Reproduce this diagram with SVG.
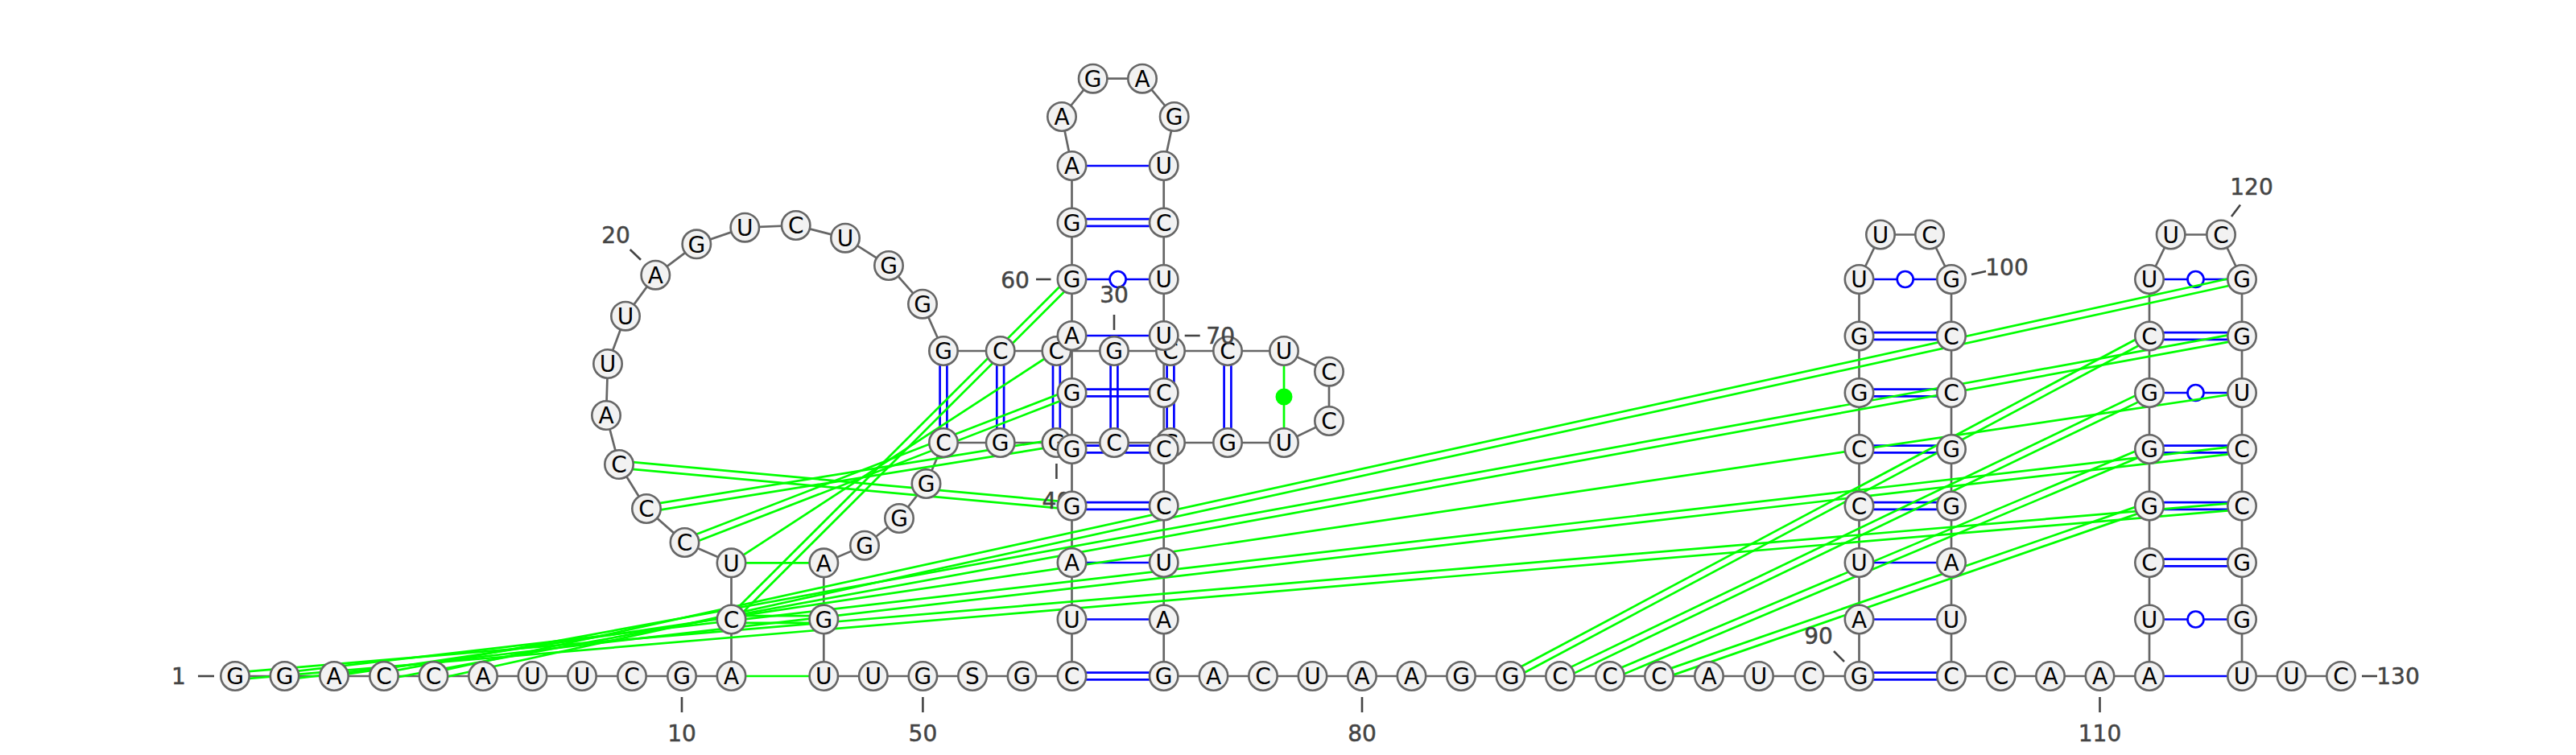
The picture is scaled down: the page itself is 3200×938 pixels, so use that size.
<svg xmlns="http://www.w3.org/2000/svg" width="3200" height="938" viewBox="0 0 3200 938">
<style>
text{font-family:"DejaVu Sans","Liberation Sans",sans-serif;font-size:28px;text-anchor:middle}
.n circle.c{fill:#f2f2f2;stroke:#666;stroke-width:2.6}
.n text{fill:#000;transform:translateY(.5px)}
.n text.l{fill:#444;stroke:#444;stroke-width:.5}
.n line{stroke:#444;stroke-width:2.6}
#connectors line,#connectors polyline{fill:none;stroke-width:2.7}
#backbone{stroke:#666}
.b{stroke:#00f}
.g{stroke:#0f0}
.w{fill:#fff;stroke:#00f;stroke-width:2.7}
</style>
<rect width="3200" height="938" fill="#fff"/>
<g id="connectors">
<polyline id="backbone" points="292,840 353.5,840 415,840 477,840 538.5,840 600,840 661.5,840 723,840 785,840 847,840 908.5,840 908.5,769.5 908.5,699.3 850.5,674 803,632 769,577 753,516 755,452 777,392.7 814.3,341.7 865.3,303.3 925.3,282.7 988.7,280 1050,295.7 1104,330 1146,377.7 1172,436 1242.7,436 1312.4,436 1384,436 1454,436 1525,436 1595,436 1651,461.7 1651,523 1595,550 1525,550 1454,550 1384,550 1312.4,550 1242.7,550 1172,550 1150.5,601 1117,644 1074,677.7 1023.3,699.3 1023.3,769.5 1023.3,840 1084.8,840 1146.4,840 1208,840 1269.5,840 1331.5,840 1331.5,769.5 1331.5,699 1331.5,628.5 1331.5,558 1331.5,488 1331.5,417 1331.5,347 1331.5,276.5 1331.5,206 1319,145 1357.7,97.7 1419,97.7 1458.7,145 1445.7,206 1445.7,276.5 1445.7,347 1445.7,417 1445.7,488 1445.7,558 1445.7,628.5 1445.7,699 1445.7,769.5 1445.7,840 1507.5,840 1569,840 1630.5,840 1692,840 1753.5,840 1815,840 1876.5,840 1938,840 2000,840 2061,840 2123,840 2185,840 2247.5,840 2309.5,840 2309.5,769.5 2309.5,699 2309.5,628.5 2309.5,558 2309.5,488 2309.5,417.5 2309.5,347 2336,291.5 2397,291.5 2424,347 2424,417.5 2424,488 2424,558 2424,628.5 2424,699 2424,769.5 2424,840 2485.5,840 2547,840 2608.5,840 2670,840 2670,769.5 2670,699 2670,628.5 2670,558 2670,488 2670,417.5 2670,347 2696.7,291.5 2759,291.5 2785,347 2785,417.5 2785,488 2785,558 2785,628.5 2785,699 2785,769.5 2785,840 2846.5,840 2908,840"/>
<g id="blue-pairs">
<line class="b" x1="1167.6" y1="436" x2="1167.6" y2="550"/><line class="b" x1="1176.4" y1="436" x2="1176.4" y2="550"/>
<line class="b" x1="1238.3" y1="436" x2="1238.3" y2="550"/><line class="b" x1="1247.1" y1="436" x2="1247.1" y2="550"/>
<line class="b" x1="1308" y1="436" x2="1308" y2="550"/><line class="b" x1="1316.8" y1="436" x2="1316.8" y2="550"/>
<line class="b" x1="1379.6" y1="436" x2="1379.6" y2="550"/><line class="b" x1="1388.4" y1="436" x2="1388.4" y2="550"/>
<line class="b" x1="1449.6" y1="436" x2="1449.6" y2="550"/><line class="b" x1="1458.4" y1="436" x2="1458.4" y2="550"/>
<line class="b" x1="1520.6" y1="436" x2="1520.6" y2="550"/><line class="b" x1="1529.4" y1="436" x2="1529.4" y2="550"/>
<line class="b" x1="1331.5" y1="835.6" x2="1445.7" y2="835.6"/><line class="b" x1="1331.5" y1="844.4" x2="1445.7" y2="844.4"/>
<line class="b" x1="1331.5" y1="769.5" x2="1445.7" y2="769.5"/>
<line class="b" x1="1331.5" y1="699" x2="1445.7" y2="699"/>
<line class="b" x1="1331.5" y1="624.1" x2="1445.7" y2="624.1"/><line class="b" x1="1331.5" y1="632.9" x2="1445.7" y2="632.9"/>
<line class="b" x1="1331.5" y1="553.6" x2="1445.7" y2="553.6"/><line class="b" x1="1331.5" y1="562.4" x2="1445.7" y2="562.4"/>
<line class="b" x1="1331.5" y1="483.6" x2="1445.7" y2="483.6"/><line class="b" x1="1331.5" y1="492.4" x2="1445.7" y2="492.4"/>
<line class="b" x1="1331.5" y1="417" x2="1445.7" y2="417"/>
<line class="b" x1="1331.5" y1="347" x2="1445.7" y2="347"/>
<line class="b" x1="1331.5" y1="272.1" x2="1445.7" y2="272.1"/><line class="b" x1="1331.5" y1="280.9" x2="1445.7" y2="280.9"/>
<line class="b" x1="1331.5" y1="206" x2="1445.7" y2="206"/>
<line class="b" x1="2309.5" y1="835.6" x2="2424" y2="835.6"/><line class="b" x1="2309.5" y1="844.4" x2="2424" y2="844.4"/>
<line class="b" x1="2309.5" y1="769.5" x2="2424" y2="769.5"/>
<line class="b" x1="2309.5" y1="699" x2="2424" y2="699"/>
<line class="b" x1="2309.5" y1="624.1" x2="2424" y2="624.1"/><line class="b" x1="2309.5" y1="632.9" x2="2424" y2="632.9"/>
<line class="b" x1="2309.5" y1="553.6" x2="2424" y2="553.6"/><line class="b" x1="2309.5" y1="562.4" x2="2424" y2="562.4"/>
<line class="b" x1="2309.5" y1="483.6" x2="2424" y2="483.6"/><line class="b" x1="2309.5" y1="492.4" x2="2424" y2="492.4"/>
<line class="b" x1="2309.5" y1="413.1" x2="2424" y2="413.1"/><line class="b" x1="2309.5" y1="421.9" x2="2424" y2="421.9"/>
<line class="b" x1="2309.5" y1="347" x2="2424" y2="347"/>
<line class="b" x1="2670" y1="840" x2="2785" y2="840"/>
<line class="b" x1="2670" y1="769.5" x2="2785" y2="769.5"/>
<line class="b" x1="2670" y1="694.6" x2="2785" y2="694.6"/><line class="b" x1="2670" y1="703.4" x2="2785" y2="703.4"/>
<line class="b" x1="2670" y1="624.1" x2="2785" y2="624.1"/><line class="b" x1="2670" y1="632.9" x2="2785" y2="632.9"/>
<line class="b" x1="2670" y1="553.6" x2="2785" y2="553.6"/><line class="b" x1="2670" y1="562.4" x2="2785" y2="562.4"/>
<line class="b" x1="2670" y1="488" x2="2785" y2="488"/>
<line class="b" x1="2670" y1="413.1" x2="2785" y2="413.1"/><line class="b" x1="2670" y1="421.9" x2="2785" y2="421.9"/>
<line class="b" x1="2670" y1="347" x2="2785" y2="347"/>
<circle class="w" cx="1388.6" cy="347" r="10"/>
<circle class="w" cx="2366.7" cy="347" r="10"/>
<circle class="w" cx="2727.5" cy="769.5" r="10"/>
<circle class="w" cx="2727.5" cy="488" r="10"/>
<circle class="w" cx="2727.5" cy="347" r="10"/>
</g>
<g id="green-pairs">
<line class="g" x1="1595" y1="436" x2="1595" y2="550"/>
<circle cx="1595" cy="493" r="10.5" fill="#0f0"/>
<line class="g" x1="908.5" y1="840" x2="1023.3" y2="840"/>
<line class="g" x1="908.5" y1="699.3" x2="1023.3" y2="699.3"/>
<line class="g" x1="908.5" y1="765.2" x2="1023.3" y2="765.2"/><line class="g" x1="908.5" y1="773.8" x2="1023.3" y2="773.8"/>
<line class="g" x1="908.3" y1="699.3" x2="1312.4" y2="436"/>
<line class="g" x1="905" y1="766.5" x2="1328.5" y2="344"/><line class="g" x1="911" y1="772.5" x2="1334.5" y2="350"/>
<line class="g" x1="849" y1="670" x2="1330" y2="484"/><line class="g" x1="852" y1="678" x2="1333" y2="492"/>
<line class="g" x1="802.3" y1="627.8" x2="1311.7" y2="545.8"/><line class="g" x1="803.7" y1="636.2" x2="1313.1" y2="554.2"/>
<line class="g" x1="769.4" y1="572.7" x2="1331.9" y2="624.2"/><line class="g" x1="768.6" y1="581.3" x2="1331.1" y2="632.8"/>
<line class="g" x1="291.6" y1="835.7" x2="2784.6" y2="624.2"/><line class="g" x1="292.4" y1="844.3" x2="2785.4" y2="632.8"/>
<line class="g" x1="353" y1="835.7" x2="2784.5" y2="553.7"/><line class="g" x1="354" y1="844.3" x2="2785.5" y2="562.3"/>
<line class="g" x1="415" y1="840" x2="2785" y2="488"/>
<line class="g" x1="476.2" y1="835.8" x2="2784.2" y2="413.3"/><line class="g" x1="477.8" y1="844.2" x2="2785.8" y2="421.7"/>
<line class="g" x1="537.6" y1="835.8" x2="2784.1" y2="342.8"/><line class="g" x1="539.4" y1="844.2" x2="2785.9" y2="351.2"/>
<line class="g" x1="1874.5" y1="836.2" x2="2668" y2="413.7"/><line class="g" x1="1878.5" y1="843.8" x2="2672" y2="421.3"/>
<line class="g" x1="1936.1" y1="836.1" x2="2668.1" y2="484.1"/><line class="g" x1="1939.9" y1="843.9" x2="2671.9" y2="491.9"/>
<line class="g" x1="1998.3" y1="836" x2="2668.3" y2="554"/><line class="g" x1="2001.7" y1="844" x2="2671.7" y2="562"/>
<line class="g" x1="2059.6" y1="835.9" x2="2668.6" y2="624.4"/><line class="g" x1="2062.4" y1="844.1" x2="2671.4" y2="632.6"/>
</g>
</g>
<g id="nodes">
<g id="n1" class="n" transform="translate(292 840)"><circle class="c" r="17.7"/><text y="9.7">G</text><line x1="-46" y1="0" x2="-26" y2="0"/><text class="l" x="-70" y="9.7">1</text></g>
<g id="n2" class="n" transform="translate(353.5 840)"><circle class="c" r="17.7"/><text y="9.7">G</text></g>
<g id="n3" class="n" transform="translate(415 840)"><circle class="c" r="17.7"/><text y="9.7">A</text></g>
<g id="n4" class="n" transform="translate(477 840)"><circle class="c" r="17.7"/><text y="9.7">C</text></g>
<g id="n5" class="n" transform="translate(538.5 840)"><circle class="c" r="17.7"/><text y="9.7">C</text></g>
<g id="n6" class="n" transform="translate(600 840)"><circle class="c" r="17.7"/><text y="9.7">A</text></g>
<g id="n7" class="n" transform="translate(661.5 840)"><circle class="c" r="17.7"/><text y="9.7">U</text></g>
<g id="n8" class="n" transform="translate(723 840)"><circle class="c" r="17.7"/><text y="9.7">U</text></g>
<g id="n9" class="n" transform="translate(785 840)"><circle class="c" r="17.7"/><text y="9.7">C</text></g>
<g id="n10" class="n" transform="translate(847 840)"><circle class="c" r="17.7"/><text y="9.7">G</text><line x1="0" y1="26" x2="0" y2="45"/><text class="l" y="80.4">10</text></g>
<g id="n11" class="n" transform="translate(908.5 840)"><circle class="c" r="17.7"/><text y="9.7">A</text></g>
<g id="n12" class="n" transform="translate(908.5 769.5)"><circle class="c" r="17.7"/><text y="9.7">C</text></g>
<g id="n13" class="n" transform="translate(908.5 699.3)"><circle class="c" r="17.7"/><text y="9.7">U</text></g>
<g id="n14" class="n" transform="translate(850.5 674)"><circle class="c" r="17.7"/><text y="9.7">C</text></g>
<g id="n15" class="n" transform="translate(803 632)"><circle class="c" r="17.7"/><text y="9.7">C</text></g>
<g id="n16" class="n" transform="translate(769 577)"><circle class="c" r="17.7"/><text y="9.7">C</text></g>
<g id="n17" class="n" transform="translate(753 516)"><circle class="c" r="17.7"/><text y="9.7">A</text></g>
<g id="n18" class="n" transform="translate(755 452)"><circle class="c" r="17.7"/><text y="9.7">U</text></g>
<g id="n19" class="n" transform="translate(777 392.7)"><circle class="c" r="17.7"/><text y="9.7">U</text></g>
<g id="n20" class="n" transform="translate(814.3 341.7)"><circle class="c" r="17.7"/><text y="9.7">A</text><line x1="-31.6" y1="-31.7" x2="-18.3" y2="-19"/><text class="l" x="-49.3" y="-40.3">20</text></g>
<g id="n21" class="n" transform="translate(865.3 303.3)"><circle class="c" r="17.7"/><text y="9.7">G</text></g>
<g id="n22" class="n" transform="translate(925.3 282.7)"><circle class="c" r="17.7"/><text y="9.7">U</text></g>
<g id="n23" class="n" transform="translate(988.7 280)"><circle class="c" r="17.7"/><text y="9.7">C</text></g>
<g id="n24" class="n" transform="translate(1050 295.7)"><circle class="c" r="17.7"/><text y="9.7">U</text></g>
<g id="n25" class="n" transform="translate(1104 330)"><circle class="c" r="17.7"/><text y="9.7">G</text></g>
<g id="n26" class="n" transform="translate(1146 377.7)"><circle class="c" r="17.7"/><text y="9.7">G</text></g>
<g id="n27" class="n" transform="translate(1172 436)"><circle class="c" r="17.7"/><text y="9.7">G</text></g>
<g id="n28" class="n" transform="translate(1242.7 436)"><circle class="c" r="17.7"/><text y="9.7">C</text></g>
<g id="n29" class="n" transform="translate(1312.4 436)"><circle class="c" r="17.7"/><text y="9.7">C</text></g>
<g id="n30" class="n" transform="translate(1384 436)"><circle class="c" r="17.7"/><text y="9.7">G</text><line x1="0" y1="-45" x2="0" y2="-26"/><text class="l" y="-60.6">30</text></g>
<g id="n31" class="n" transform="translate(1454 436)"><circle class="c" r="17.7"/><text y="9.7">C</text></g>
<g id="n32" class="n" transform="translate(1525 436)"><circle class="c" r="17.7"/><text y="9.7">C</text></g>
<g id="n33" class="n" transform="translate(1595 436)"><circle class="c" r="17.7"/><text y="9.7">U</text></g>
<g id="n34" class="n" transform="translate(1651 461.7)"><circle class="c" r="17.7"/><text y="9.7">C</text></g>
<g id="n35" class="n" transform="translate(1651 523)"><circle class="c" r="17.7"/><text y="9.7">C</text></g>
<g id="n36" class="n" transform="translate(1595 550)"><circle class="c" r="17.7"/><text y="9.7">U</text></g>
<g id="n37" class="n" transform="translate(1525 550)"><circle class="c" r="17.7"/><text y="9.7">G</text></g>
<g id="n38" class="n" transform="translate(1454 550)"><circle class="c" r="17.7"/><text y="9.7">G</text></g>
<g id="n39" class="n" transform="translate(1384 550)"><circle class="c" r="17.7"/><text y="9.7">C</text></g>
<g id="n40" class="n" transform="translate(1312.4 550)"><circle class="c" r="17.7"/><text y="9.7">G</text><line x1="0" y1="26" x2="0" y2="45"/><text class="l" y="81.4">40</text></g>
<g id="n41" class="n" transform="translate(1242.7 550)"><circle class="c" r="17.7"/><text y="9.7">G</text></g>
<g id="n42" class="n" transform="translate(1172 550)"><circle class="c" r="17.7"/><text y="9.7">C</text></g>
<g id="n43" class="n" transform="translate(1150.5 601)"><circle class="c" r="17.7"/><text y="9.7">G</text></g>
<g id="n44" class="n" transform="translate(1117 644)"><circle class="c" r="17.7"/><text y="9.7">G</text></g>
<g id="n45" class="n" transform="translate(1074 677.7)"><circle class="c" r="17.7"/><text y="9.7">G</text></g>
<g id="n46" class="n" transform="translate(1023.3 699.3)"><circle class="c" r="17.7"/><text y="9.7">A</text></g>
<g id="n47" class="n" transform="translate(1023.3 769.5)"><circle class="c" r="17.7"/><text y="9.7">G</text></g>
<g id="n48" class="n" transform="translate(1023.3 840)"><circle class="c" r="17.7"/><text y="9.7">U</text></g>
<g id="n49" class="n" transform="translate(1084.8 840)"><circle class="c" r="17.7"/><text y="9.7">U</text></g>
<g id="n50" class="n" transform="translate(1146.4 840)"><circle class="c" r="17.7"/><text y="9.7">G</text><line x1="0" y1="26" x2="0" y2="45"/><text class="l" y="80.4">50</text></g>
<g id="n51" class="n" transform="translate(1208 840)"><circle class="c" r="17.7"/><text y="9.7">S</text></g>
<g id="n52" class="n" transform="translate(1269.5 840)"><circle class="c" r="17.7"/><text y="9.7">G</text></g>
<g id="n53" class="n" transform="translate(1331.5 840)"><circle class="c" r="17.7"/><text y="9.7">C</text></g>
<g id="n54" class="n" transform="translate(1331.5 769.5)"><circle class="c" r="17.7"/><text y="9.7">U</text></g>
<g id="n55" class="n" transform="translate(1331.5 699)"><circle class="c" r="17.7"/><text y="9.7">A</text></g>
<g id="n56" class="n" transform="translate(1331.5 628.5)"><circle class="c" r="17.7"/><text y="9.7">G</text></g>
<g id="n57" class="n" transform="translate(1331.5 558)"><circle class="c" r="17.7"/><text y="9.7">G</text></g>
<g id="n58" class="n" transform="translate(1331.5 488)"><circle class="c" r="17.7"/><text y="9.7">G</text></g>
<g id="n59" class="n" transform="translate(1331.5 417)"><circle class="c" r="17.7"/><text y="9.7">A</text></g>
<g id="n60" class="n" transform="translate(1331.5 347)"><circle class="c" r="17.7"/><text y="9.7">G</text><line x1="-44.5" y1="0" x2="-26" y2="0"/><text class="l" x="-70.5" y="10.7">60</text></g>
<g id="n61" class="n" transform="translate(1331.5 276.5)"><circle class="c" r="17.7"/><text y="9.7">G</text></g>
<g id="n62" class="n" transform="translate(1331.5 206)"><circle class="c" r="17.7"/><text y="9.7">A</text></g>
<g id="n63" class="n" transform="translate(1319 145)"><circle class="c" r="17.7"/><text y="9.7">A</text></g>
<g id="n64" class="n" transform="translate(1357.7 97.7)"><circle class="c" r="17.7"/><text y="9.7">G</text></g>
<g id="n65" class="n" transform="translate(1419 97.7)"><circle class="c" r="17.7"/><text y="9.7">A</text></g>
<g id="n66" class="n" transform="translate(1458.7 145)"><circle class="c" r="17.7"/><text y="9.7">G</text></g>
<g id="n67" class="n" transform="translate(1445.7 206)"><circle class="c" r="17.7"/><text y="9.7">U</text></g>
<g id="n68" class="n" transform="translate(1445.7 276.5)"><circle class="c" r="17.7"/><text y="9.7">C</text></g>
<g id="n69" class="n" transform="translate(1445.7 347)"><circle class="c" r="17.7"/><text y="9.7">U</text></g>
<g id="n70" class="n" transform="translate(1445.7 417)"><circle class="c" r="17.7"/><text y="9.7">U</text><line x1="26" y1="0" x2="45" y2="0"/><text class="l" x="70.5" y="9.7">70</text></g>
<g id="n71" class="n" transform="translate(1445.7 488)"><circle class="c" r="17.7"/><text y="9.7">C</text></g>
<g id="n72" class="n" transform="translate(1445.7 558)"><circle class="c" r="17.7"/><text y="9.7">C</text></g>
<g id="n73" class="n" transform="translate(1445.7 628.5)"><circle class="c" r="17.7"/><text y="9.7">C</text></g>
<g id="n74" class="n" transform="translate(1445.7 699)"><circle class="c" r="17.7"/><text y="9.7">U</text></g>
<g id="n75" class="n" transform="translate(1445.7 769.5)"><circle class="c" r="17.7"/><text y="9.7">A</text></g>
<g id="n76" class="n" transform="translate(1445.7 840)"><circle class="c" r="17.7"/><text y="9.7">G</text></g>
<g id="n77" class="n" transform="translate(1507.5 840)"><circle class="c" r="17.7"/><text y="9.7">A</text></g>
<g id="n78" class="n" transform="translate(1569 840)"><circle class="c" r="17.7"/><text y="9.7">C</text></g>
<g id="n79" class="n" transform="translate(1630.5 840)"><circle class="c" r="17.7"/><text y="9.7">U</text></g>
<g id="n80" class="n" transform="translate(1692 840)"><circle class="c" r="17.7"/><text y="9.7">A</text><line x1="0" y1="26" x2="0" y2="45"/><text class="l" y="80.4">80</text></g>
<g id="n81" class="n" transform="translate(1753.5 840)"><circle class="c" r="17.7"/><text y="9.7">A</text></g>
<g id="n82" class="n" transform="translate(1815 840)"><circle class="c" r="17.7"/><text y="9.7">G</text></g>
<g id="n83" class="n" transform="translate(1876.5 840)"><circle class="c" r="17.7"/><text y="9.7">G</text></g>
<g id="n84" class="n" transform="translate(1938 840)"><circle class="c" r="17.7"/><text y="9.7">C</text></g>
<g id="n85" class="n" transform="translate(2000 840)"><circle class="c" r="17.7"/><text y="9.7">C</text></g>
<g id="n86" class="n" transform="translate(2061 840)"><circle class="c" r="17.7"/><text y="9.7">C</text></g>
<g id="n87" class="n" transform="translate(2123 840)"><circle class="c" r="17.7"/><text y="9.7">A</text></g>
<g id="n88" class="n" transform="translate(2185 840)"><circle class="c" r="17.7"/><text y="9.7">U</text></g>
<g id="n89" class="n" transform="translate(2247.5 840)"><circle class="c" r="17.7"/><text y="9.7">C</text></g>
<g id="n90" class="n" transform="translate(2309.5 840)"><circle class="c" r="17.7"/><text y="9.7">G</text><line x1="-31.5" y1="-31" x2="-18.5" y2="-18"/><text class="l" x="-50.5" y="-40.3">90</text></g>
<g id="n91" class="n" transform="translate(2309.5 769.5)"><circle class="c" r="17.7"/><text y="9.7">A</text></g>
<g id="n92" class="n" transform="translate(2309.5 699)"><circle class="c" r="17.7"/><text y="9.7">U</text></g>
<g id="n93" class="n" transform="translate(2309.5 628.5)"><circle class="c" r="17.7"/><text y="9.7">C</text></g>
<g id="n94" class="n" transform="translate(2309.5 558)"><circle class="c" r="17.7"/><text y="9.7">C</text></g>
<g id="n95" class="n" transform="translate(2309.5 488)"><circle class="c" r="17.7"/><text y="9.7">G</text></g>
<g id="n96" class="n" transform="translate(2309.5 417.5)"><circle class="c" r="17.7"/><text y="9.7">G</text></g>
<g id="n97" class="n" transform="translate(2309.5 347)"><circle class="c" r="17.7"/><text y="9.7">U</text></g>
<g id="n98" class="n" transform="translate(2336 291.5)"><circle class="c" r="17.7"/><text y="9.7">U</text></g>
<g id="n99" class="n" transform="translate(2397 291.5)"><circle class="c" r="17.7"/><text y="9.7">C</text></g>
<g id="n100" class="n" transform="translate(2424 347)"><circle class="c" r="17.7"/><text y="9.7">G</text><line x1="25" y1="-6" x2="43" y2="-10"/><text class="l" x="69" y="-5.6">100</text></g>
<g id="n101" class="n" transform="translate(2424 417.5)"><circle class="c" r="17.7"/><text y="9.7">C</text></g>
<g id="n102" class="n" transform="translate(2424 488)"><circle class="c" r="17.7"/><text y="9.7">C</text></g>
<g id="n103" class="n" transform="translate(2424 558)"><circle class="c" r="17.7"/><text y="9.7">G</text></g>
<g id="n104" class="n" transform="translate(2424 628.5)"><circle class="c" r="17.7"/><text y="9.7">G</text></g>
<g id="n105" class="n" transform="translate(2424 699)"><circle class="c" r="17.7"/><text y="9.7">A</text></g>
<g id="n106" class="n" transform="translate(2424 769.5)"><circle class="c" r="17.7"/><text y="9.7">U</text></g>
<g id="n107" class="n" transform="translate(2424 840)"><circle class="c" r="17.7"/><text y="9.7">C</text></g>
<g id="n108" class="n" transform="translate(2485.5 840)"><circle class="c" r="17.7"/><text y="9.7">C</text></g>
<g id="n109" class="n" transform="translate(2547 840)"><circle class="c" r="17.7"/><text y="9.7">A</text></g>
<g id="n110" class="n" transform="translate(2608.5 840)"><circle class="c" r="17.7"/><text y="9.7">A</text><line x1="0" y1="26" x2="0" y2="45"/><text class="l" y="80.4">110</text></g>
<g id="n111" class="n" transform="translate(2670 840)"><circle class="c" r="17.7"/><text y="9.7">A</text></g>
<g id="n112" class="n" transform="translate(2670 769.5)"><circle class="c" r="17.7"/><text y="9.7">U</text></g>
<g id="n113" class="n" transform="translate(2670 699)"><circle class="c" r="17.7"/><text y="9.7">C</text></g>
<g id="n114" class="n" transform="translate(2670 628.5)"><circle class="c" r="17.7"/><text y="9.7">G</text></g>
<g id="n115" class="n" transform="translate(2670 558)"><circle class="c" r="17.7"/><text y="9.7">G</text></g>
<g id="n116" class="n" transform="translate(2670 488)"><circle class="c" r="17.7"/><text y="9.7">G</text></g>
<g id="n117" class="n" transform="translate(2670 417.5)"><circle class="c" r="17.7"/><text y="9.7">C</text></g>
<g id="n118" class="n" transform="translate(2670 347)"><circle class="c" r="17.7"/><text y="9.7">U</text></g>
<g id="n119" class="n" transform="translate(2696.7 291.5)"><circle class="c" r="17.7"/><text y="9.7">U</text></g>
<g id="n120" class="n" transform="translate(2759 291.5)"><circle class="c" r="17.7"/><text y="9.7">C</text><line x1="13" y1="-22.5" x2="24" y2="-37"/><text class="l" x="38" y="-49.8">120</text></g>
<g id="n121" class="n" transform="translate(2785 347)"><circle class="c" r="17.7"/><text y="9.7">G</text></g>
<g id="n122" class="n" transform="translate(2785 417.5)"><circle class="c" r="17.7"/><text y="9.7">G</text></g>
<g id="n123" class="n" transform="translate(2785 488)"><circle class="c" r="17.7"/><text y="9.7">U</text></g>
<g id="n124" class="n" transform="translate(2785 558)"><circle class="c" r="17.7"/><text y="9.7">C</text></g>
<g id="n125" class="n" transform="translate(2785 628.5)"><circle class="c" r="17.7"/><text y="9.7">C</text></g>
<g id="n126" class="n" transform="translate(2785 699)"><circle class="c" r="17.7"/><text y="9.7">G</text></g>
<g id="n127" class="n" transform="translate(2785 769.5)"><circle class="c" r="17.7"/><text y="9.7">G</text></g>
<g id="n128" class="n" transform="translate(2785 840)"><circle class="c" r="17.7"/><text y="9.7">U</text></g>
<g id="n129" class="n" transform="translate(2846.5 840)"><circle class="c" r="17.7"/><text y="9.7">U</text></g>
<g id="n130" class="n" transform="translate(2908 840)"><circle class="c" r="17.7"/><text y="9.7">C</text><line x1="26" y1="0" x2="45" y2="0"/><text class="l" x="71" y="9.7">130</text></g>
</g>
</svg>
